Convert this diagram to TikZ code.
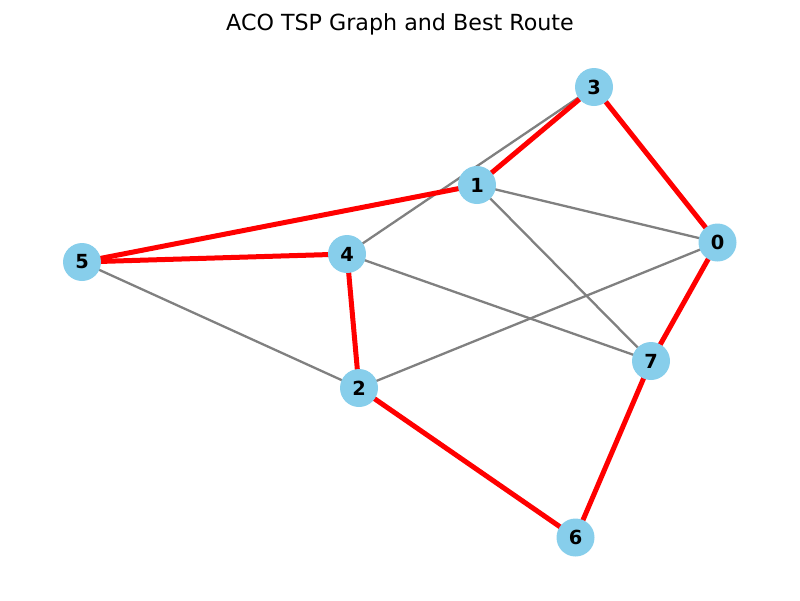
\documentclass[tikz,border=0pt]{standalone}
\usepackage{fontspec}
\setmainfont{DejaVu Sans}
\begin{document}
\begin{tikzpicture}[x=1pt,y=-1pt,
  vertex/.style={circle,fill=skyblue,minimum size=38pt,inner sep=0pt,font=\fontsize{19.4}{22}\selectfont\bfseries},
  plain/.style={draw=edgegray,line width=2.3pt},
  route/.style={draw=red,line width=5pt}]
\definecolor{skyblue}{HTML}{87CEEB}
\definecolor{edgegray}{HTML}{808080}
\useasboundingbox (0,0) rectangle (800,600);
\node (title) at (400,24) {\fontsize{22.2}{26}\selectfont ACO TSP Graph and Best Route};
\coordinate (p0) at (717.5,242.5);
\coordinate (p1) at (477,185);
\coordinate (p2) at (359,388);
\coordinate (p3) at (594,87);
\coordinate (p4) at (347,254);
\coordinate (p5) at (82,262);
\coordinate (p6) at (575.5,537.5);
\coordinate (p7) at (651,361);
\draw[plain] (p3) -- (p4);
\draw[plain] (p1) -- (p0);
\draw[plain] (p1) -- (p7);
\draw[plain] (p4) -- (p7);
\draw[plain] (p5) -- (p2);
\draw[plain] (p2) -- (p0);
\draw[route] (p3) -- (p1);
\draw[route] (p1) -- (p5);
\draw[route] (p5) -- (p4);
\draw[route] (p4) -- (p2);
\draw[route] (p2) -- (p6);
\draw[route] (p6) -- (p7);
\draw[route] (p7) -- (p0);
\draw[route] (p0) -- (p3);
\foreach \i in {0,...,7} {\node[vertex] (n\i) at (p\i) {\i};}
\end{tikzpicture}
\end{document}
